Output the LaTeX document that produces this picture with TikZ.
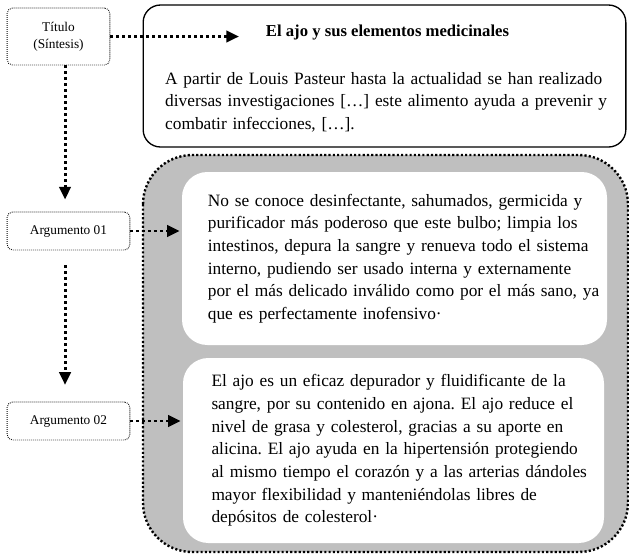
\documentclass[tikz,border=0pt]{standalone}
\usepackage{fontspec}
\setmainfont{Liberation Serif}
\usetikzlibrary{arrows.meta,positioning}
\colorlet{zonacol}{black!25}
\tikzset{
  etiqueta/.style={draw, line width=0.7pt, dash pattern=on 0.6pt off 0.9pt,
    rounded corners=4pt, align=center, font=\fontsize{10}{12.5}\selectfont},
  marco/.style={draw, line width=1pt, rounded corners=13pt},
  cuadro/.style={fill=white, rounded corners=19pt, align=left,
    font=\fontsize{13}{17}\selectfont},
  texto/.style={inner sep=0pt, align=left, font=\fontsize{13}{17}\selectfont},
  flecha/.style={line width=2.2pt, dash pattern=on 2.2pt off 2.3pt,
    -{Triangle[length=9.5pt,width=8.5pt]}},
  zona/.style={fill=zonacol, line width=1.8pt, dash pattern=on 1.6pt off 1.6pt,
    rounded corners=37pt},
}
\newcommand{\linea}[1]{\makebox[\linewidth][s]{#1}\\}
\frenchspacing

\begin{document}
\begin{tikzpicture}[x=0.75pt,y=-0.75pt]
  \useasboundingbox (0,0) rectangle (629,558);

  %--------------------------------------------
  % Gray region behind the two arguments
  %--------------------------------------------
  \draw[zona] (143,155) rectangle (628,552);

  %--------------------------------------------
  % Title box (synthesis)
  %--------------------------------------------
  \node[marco, minimum width=362pt, minimum height=106.5pt] (sint) at (384.5,76) {};
  \node[inner sep=0pt, font=\fontsize{12.5}{15}\selectfont\bfseries] (titulo) at (387.5,33)
    {El ajo y sus elementos medicinales};
  \node[texto, text width=335pt] (parr) at (388.5,102) {%
    \linea{A partir de Louis Pasteur hasta la actualidad se han realizado}
    \linea{diversas investigaciones […] este alimento ayuda a prevenir y}
    combatir infecciones, […].};

  %--------------------------------------------
  % Argument boxes (white, inside the gray region)
  %--------------------------------------------
  \node[cuadro, minimum width=318.75pt, minimum height=129.75pt, text width=280pt]
    (caja1) at (394.5,258.5) {%
    \linea{No se conoce desinfectante, sahumados, germicida y}
    \linea{purificador más poderoso que este bulbo; limpia los}
    \linea{intestinos, depura la sangre y renueva todo el sistema}
    \linea{interno, pudiendo ser usado interna y externamente}
    \linea{por el más delicado inválido como por el más sano, ya}
    que es perfectamente inofensivo·};

  \node[cuadro, minimum width=315.75pt, minimum height=138.75pt, text width=273pt]
    (caja2) at (393.5,450.5) {%
    \linea{El ajo es un eficaz depurador y fluidificante de la}
    \linea{sangre, por su contenido en ajona. El ajo reduce el}
    \linea{nivel de grasa y colesterol, gracias a su aporte en}
    \linea{alicina. El ajo ayuda en la hipertensión protegiendo}
    \linea{al mismo tiempo el corazón y a las arterias dándoles}
    \linea{mayor flexibilidad y manteniéndolas libres de}
    depósitos de colesterol·};

  %--------------------------------------------
  % Labels on the left
  %--------------------------------------------
  \node[etiqueta, minimum width=77pt, minimum height=42.75pt] (tit) at (58.5,36.5)
    {Título\\(Síntesis)};
  \node[etiqueta, minimum width=92pt, minimum height=28.5pt] (arg1) at (68.5,231)
    {Argumento 01};
  \node[etiqueta, minimum width=92pt, minimum height=28.5pt] (arg2) at (68.5,421)
    {Argumento 02};

  %--------------------------------------------
  % Dotted arrows
  %--------------------------------------------
  \draw[flecha, shorten >=20pt] (tit.east) -- (tit.east -| titulo.west);
  \draw[flecha, shorten >=9pt] ([xshift=4.9pt]tit.south) -- ([xshift=4.9pt]tit.south |- arg1.north);
  \draw[flecha, shorten <=11pt, shorten >=12.5pt] ([xshift=-2.6pt]arg1.south)
    -- ([xshift=-2.6pt]arg1.south |- arg2.north);
  \draw[flecha, shorten >=1.5pt] (arg1.east) -- (arg1.east -| caja1.west);
  \draw[flecha, shorten >=1.5pt] (arg2.east) -- (arg2.east -| caja2.west);
\end{tikzpicture}
\end{document}
